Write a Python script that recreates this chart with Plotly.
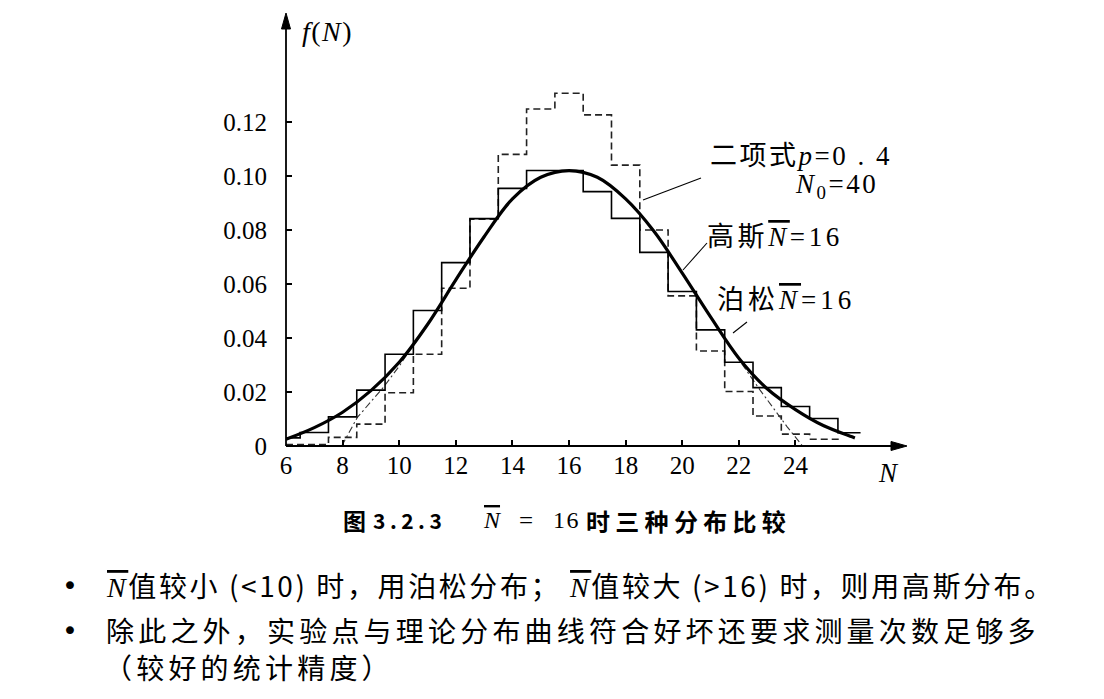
import plotly.graph_objects as go

# ---------------- data ----------------
N_vals = list(range(6, 27))            # 6 .. 26
poisson = [0.0030, 0.0050, 0.0108, 0.0207, 0.0340, 0.0502, 0.0679, 0.0842, 0.0954,
           0.1020, 0.1020, 0.0942, 0.0843, 0.0717, 0.0572, 0.0430, 0.0310, 0.0216,
           0.0146, 0.0102, 0.0049]
poisson_end = 26.3

N_binom = list(range(6, 26))           # 6 .. 25
binomial = [0.0005, 0.0005, 0.0032, 0.0081, 0.0197, 0.0340, 0.0584, 0.0840, 0.1080,
            0.1248, 0.1306, 0.1226, 0.1040, 0.0800, 0.0556, 0.0352, 0.0202, 0.0111,
            0.0044, 0.0025]
binom_end = 25.6

gauss_N = [6, 7, 8, 9, 10, 11, 12, 13, 14, 15, 16, 17, 18, 19, 20, 21, 22, 23, 24, 25, 26, 26.1]
gauss_f = [0.0025, 0.0068, 0.0125, 0.0205, 0.0310, 0.0450, 0.0615, 0.0775, 0.0915, 0.0995,
           0.1020, 0.0995, 0.0915, 0.0795, 0.0640, 0.0478, 0.0325, 0.0212, 0.0135, 0.0075,
           0.0034, 0.0030]

dd_left_N = [7.97, 8.52, 9.44, 10.03, 10.4]
dd_left_f = [0.0, 0.0106, 0.0217, 0.0300, 0.0360]
dd_right_N = [21.8, 22.75, 23.7, 24.25]
dd_right_f = [0.0350, 0.0207, 0.0072, 0.0]

x_ticks = [6, 8, 10, 12, 14, 16, 18, 20, 22, 24]
y_ticks = [0, 0.02, 0.04, 0.06, 0.08, 0.10, 0.12]
y_tick_text = ["0", "0.02", "0.04", "0.06", "0.08", "0.10", "0.12"]

X_MIN, X_MAX = 6, 27.87
Y_MIN, Y_MAX = 0, 0.1596

# ---------------- helpers ----------------
def step_xy(centers, values, end):
    xs = [max(c - 0.5, X_MIN) for c in centers] + [end]
    ys = list(values) + [values[-1]]
    return xs, ys

# plot-area corners in reference pixels; page has an 8px body margin
L, R, T, B = 286, 905, 15, 446
OFF = 8
W, H = 1104, 699

def px(x):
    return (x - L) / (R - L)

def py(y):
    return (B - y) / (B - T)

SERIF = "Liberation Serif, Noto Serif, Noto Sans CJK SC"
CJK = "Noto Sans CJK SC"
NBAR = '<span style="font-style:italic;text-decoration:overline">N</span>'
NBAR_SERIF = ('<span style="font-family:Liberation Serif;font-style:italic;'
              'text-decoration:overline">N</span>')

def spaced(s, ls):
    return '<span style="letter-spacing:%gpx">%s</span>' % (ls, s)

fig = go.Figure()

bx, by = step_xy(N_binom, binomial, binom_end)
fig.add_trace(go.Scatter(x=bx, y=by, mode="lines", line_shape="hv",
                         line=dict(color="#222222", width=1.6, dash="7px,4px"),
                         hoverinfo="skip", showlegend=False))

fig.add_trace(go.Scatter(x=dd_left_N + [None] + dd_right_N,
                         y=dd_left_f + [None] + dd_right_f, mode="lines",
                         line=dict(color="#333333", width=1.1, dash="7px,3px,2px,3px"),
                         hoverinfo="skip", showlegend=False))

sx, sy = step_xy(N_vals, poisson, poisson_end)
fig.add_trace(go.Scatter(x=sx, y=sy, mode="lines", line_shape="hv",
                         line=dict(color="black", width=1.6),
                         hoverinfo="skip", showlegend=False))

fig.add_trace(go.Scatter(x=gauss_N, y=gauss_f, mode="lines", line_shape="spline",
                         line=dict(color="black", width=3.2, smoothing=1.0),
                         hoverinfo="skip", showlegend=False))

ann = []
# axis titles
ann.append(dict(x=px(300), y=py(31), xref="paper", yref="paper", xanchor="left", yanchor="middle",
                text=spaced("<i>f</i>(<i>N</i>)", 1.5), showarrow=False,
                font=dict(family=SERIF, size=28, color="black")))
ann.append(dict(x=px(888), y=py(473), xref="paper", yref="paper", xanchor="center", yanchor="middle",
                text="<i>N</i>", showarrow=False,
                font=dict(family=SERIF, size=27, color="black")))

# curve labels
ann.append(dict(x=px(708), y=py(156), xref="paper", yref="paper", xanchor="left", yanchor="middle",
                text=spaced("二项式<i>p</i>=0 . 4", 2.5), showarrow=False,
                font=dict(family=SERIF, size=27, color="black")))
ann.append(dict(x=px(793), y=py(186), xref="paper", yref="paper", xanchor="left", yanchor="middle",
                text=spaced("<i>N</i><sub>0</sub>=40", 2.5), showarrow=False,
                font=dict(family=SERIF, size=27, color="black")))
ann.append(dict(x=px(705), y=py(237), xref="paper", yref="paper", xanchor="left", yanchor="middle",
                text=spaced("高斯" + NBAR + "=16", 3.6), showarrow=False,
                font=dict(family=SERIF, size=27, color="black")))
ann.append(dict(x=px(715), y=py(300), xref="paper", yref="paper", xanchor="left", yanchor="middle",
                text=spaced("泊松" + NBAR + "=16", 4), showarrow=False,
                font=dict(family=SERIF, size=27, color="black")))

# caption
ann.append(dict(x=px(341), y=py(520), xref="paper", yref="paper", xanchor="left", yanchor="middle",
                text="<b>图</b>", showarrow=False,
                font=dict(family=CJK, size=23, color="black")))
ann.append(dict(x=px(371), y=py(520), xref="paper", yref="paper", xanchor="left", yanchor="middle",
                text=spaced("<b>3.2.3</b>", 4.5), showarrow=False,
                font=dict(family=CJK, size=21, color="black")))
ann.append(dict(x=px(481), y=py(520), xref="paper", yref="paper", xanchor="left", yanchor="middle",
                text=NBAR, showarrow=False,
                font=dict(family="Liberation Serif", size=24, color="black")))
ann.append(dict(x=px(526), y=py(520), xref="paper", yref="paper", xanchor="center", yanchor="middle",
                text="=", showarrow=False,
                font=dict(family="Liberation Serif", size=25, color="black")))
ann.append(dict(x=px(551), y=py(520), xref="paper", yref="paper", xanchor="left", yanchor="middle",
                text=spaced("16", 1.5), showarrow=False,
                font=dict(family="Liberation Serif", size=24, color="black")))
ann.append(dict(x=px(584), y=py(520), xref="paper", yref="paper", xanchor="left", yanchor="middle",
                text=spaced("<b>时三种分布比较</b>", 5.3), showarrow=False,
                font=dict(family=CJK, size=24, color="black")))

# bullets
for yb in (585, 630):
    ann.append(dict(x=px(70), y=py(yb), xref="paper", yref="paper", xanchor="center", yanchor="middle",
                    text="•", showarrow=False, font=dict(family="DejaVu Sans", size=27, color="black")))
ann.append(dict(x=px(104), y=py(585), xref="paper", yref="paper", xanchor="left", yanchor="middle",
                text=spaced(NBAR_SERIF + "值较小 (&lt;10) 时，用泊松分布； " + NBAR_SERIF
                            + "值较大 (&gt;16) 时，则用高斯分布。", 2.6),
                showarrow=False, font=dict(family=CJK, size=28, color="black")))
ann.append(dict(x=px(104), y=py(630), xref="paper", yref="paper", xanchor="left", yanchor="middle",
                text=spaced("除此之外，实验点与理论分布曲线符合好坏还要求测量次数足够多", 4.2),
                showarrow=False, font=dict(family=CJK, size=28, color="black")))
ann.append(dict(x=px(102), y=py(667), xref="paper", yref="paper", xanchor="left", yanchor="middle",
                text=spaced("（较好的统计精度）", 4.2),
                showarrow=False, font=dict(family=CJK, size=28, color="black")))

shapes = []
# axis lines with arrowheads (reference pixel positions converted to paper)
shapes.append(dict(type="line", xref="paper", yref="paper", x0=px(L), y0=py(B), x1=px(R - 6), y1=py(B),
                   line=dict(color="black", width=1.8)))
shapes.append(dict(type="line", xref="paper", yref="paper", x0=px(L), y0=py(B), x1=px(L), y1=py(T + 6),
                   line=dict(color="black", width=1.8)))
shapes.append(dict(type="path", xref="paper", yref="paper",
                   path="M %f,%f L %f,%f L %f,%f Z" % (px(R + 2), py(B), px(R - 14), py(B - 4.5),
                                                     px(R - 14), py(B + 4.5)),
                   fillcolor="black", line=dict(color="black", width=1)))
shapes.append(dict(type="path", xref="paper", yref="paper",
                   path="M %f,%f L %f,%f L %f,%f Z" % (px(L), py(T - 2), px(L - 4.5), py(T + 14),
                                                     px(L + 4.5), py(T + 14)),
                   fillcolor="black", line=dict(color="black", width=1)))
# leader lines
for (x0, y0, x1, y1) in [(701, 178, 643, 200), (707, 243, 683, 270), (747, 322, 733, 333)]:
    shapes.append(dict(type="line", xref="paper", yref="paper",
                       x0=px(x0), y0=py(y0), x1=px(x1), y1=py(y1),
                       line=dict(color="black", width=1.1)))

fig.update_layout(
    width=W, height=H,
    margin=dict(l=L - OFF, r=W - (R - OFF), t=T - OFF, b=H - (B - OFF), pad=0),
    paper_bgcolor="white", plot_bgcolor="white",
    showlegend=False,
    annotations=ann, shapes=shapes,
    xaxis=dict(range=[X_MIN, X_MAX], tickvals=x_ticks, ticks="inside", ticklen=6, tickwidth=1.5,
               tickcolor="black", showgrid=False, zeroline=False, showline=False,
               tickfont=dict(family=SERIF, size=25, color="black"), ticklabelstandoff=2,
               fixedrange=True),
    yaxis=dict(range=[Y_MIN, Y_MAX], tickvals=y_ticks, ticktext=y_tick_text, ticks="inside",
               ticklen=6, tickwidth=1.5, tickcolor="black", showgrid=False, zeroline=False,
               showline=False, tickfont=dict(family=SERIF, size=25, color="black"),
               ticklabelstandoff=18, fixedrange=True),
)

fig.write_html("out.html")
